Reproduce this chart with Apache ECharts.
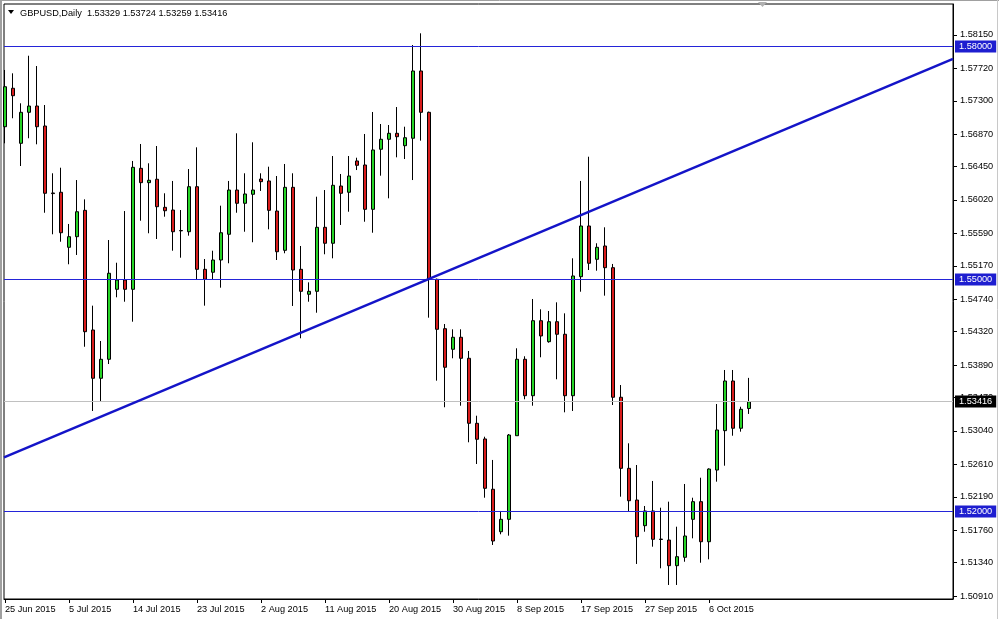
<!DOCTYPE html>
<html>
<head>
<meta charset="utf-8">
<script src="https://cdn.jsdelivr.net/npm/echarts@6/dist/echarts.min.js"></script>
<style>
html,body{margin:0;padding:0;background:#fff;}
#c{width:999px;height:619px;}
</style>
</head>
<body>
<div id="c"></div>
<script>
// ---- data ----
const symbolTitle = 'GBPUSD,Daily';
const dates = ['25 Jun 2015','26 Jun 2015','28 Jun 2015','29 Jun 2015','30 Jun 2015','1 Jul 2015','2 Jul 2015','3 Jul 2015','5 Jul 2015','6 Jul 2015',
'7 Jul 2015','8 Jul 2015','9 Jul 2015','10 Jul 2015','12 Jul 2015','13 Jul 2015','14 Jul 2015','15 Jul 2015','16 Jul 2015','17 Jul 2015',
'19 Jul 2015','20 Jul 2015','21 Jul 2015','22 Jul 2015','23 Jul 2015','24 Jul 2015','26 Jul 2015','27 Jul 2015','28 Jul 2015','29 Jul 2015',
'30 Jul 2015','31 Jul 2015','2 Aug 2015','3 Aug 2015','4 Aug 2015','5 Aug 2015','6 Aug 2015','7 Aug 2015','9 Aug 2015','10 Aug 2015',
'11 Aug 2015','12 Aug 2015','13 Aug 2015','14 Aug 2015','16 Aug 2015','17 Aug 2015','18 Aug 2015','19 Aug 2015','20 Aug 2015','21 Aug 2015',
'23 Aug 2015','24 Aug 2015','25 Aug 2015','26 Aug 2015','27 Aug 2015','28 Aug 2015','30 Aug 2015','31 Aug 2015','1 Sep 2015','2 Sep 2015',
'3 Sep 2015','4 Sep 2015','6 Sep 2015','7 Sep 2015','8 Sep 2015','9 Sep 2015','10 Sep 2015','11 Sep 2015','13 Sep 2015','14 Sep 2015',
'15 Sep 2015','16 Sep 2015','17 Sep 2015','18 Sep 2015','20 Sep 2015','21 Sep 2015','22 Sep 2015','23 Sep 2015','24 Sep 2015','25 Sep 2015',
'27 Sep 2015','28 Sep 2015','29 Sep 2015','30 Sep 2015','1 Oct 2015','2 Oct 2015','4 Oct 2015','5 Oct 2015','6 Oct 2015','7 Oct 2015',
'8 Oct 2015','9 Oct 2015','11 Oct 2015','12 Oct 2015'];

const openP = [1.56965,1.57461,1.56751,1.57151,1.57232,1.56974,1.56110,1.56119,1.55409,1.55546,
1.55886,1.54342,1.53719,1.53964,1.54867,1.54987,1.54867,1.56428,1.56243,1.56287,
1.55925,1.55890,1.55626,1.55610,1.56191,1.55125,1.55087,1.55245,1.55577,1.56148,
1.55977,1.56093,1.56290,1.56265,1.55877,1.55370,1.56183,1.55125,1.54803,1.54841,
1.55667,1.55461,1.56200,1.56119,1.56523,1.56471,1.55899,1.56674,1.56803,1.56880,
1.56720,1.56816,1.57684,1.57151,1.54996,1.54359,1.54093,1.54248,1.53977,1.53138,
1.52936,1.52287,1.51739,1.51899,1.52978,1.53964,1.53494,1.54462,1.54191,1.54449,
1.54287,1.53494,1.55030,1.55684,1.55254,1.55426,1.55146,1.53474,1.52557,1.52148,
1.51817,1.52007,1.51644,1.51632,1.51301,1.51409,1.51899,1.52127,1.51610,1.52535,
1.53043,1.53684,1.53074,1.53329];

const highP = [1.57697,1.57654,1.57267,1.57881,1.57748,1.57245,1.56364,1.56436,1.55710,1.56277,
1.56028,1.54656,1.54200,1.55503,1.55210,1.55877,1.56523,1.56742,1.56493,1.56716,
1.56106,1.56265,1.55890,1.56419,1.56699,1.55258,1.55365,1.55946,1.56265,1.56880,
1.56364,1.56764,1.56364,1.56449,1.56329,1.56484,1.56364,1.55426,1.54957,1.56062,
1.56148,1.56587,1.56355,1.56587,1.56565,1.56871,1.57155,1.57000,1.56987,1.57219,
1.56965,1.58019,1.58170,1.57160,1.55005,1.54419,1.54351,1.54351,1.54071,1.53236,
1.52965,1.52665,1.52007,1.53000,1.54106,1.54003,1.54742,1.54609,1.54587,1.54699,
1.54557,1.55267,1.56265,1.56578,1.55461,1.55667,1.55194,1.53632,1.52880,1.52600,
1.52071,1.52394,1.52049,1.52127,1.51804,1.52355,1.52178,1.52436,1.52557,1.53387,
1.53826,1.53826,1.53352,1.53724];

const lowP = [1.56751,1.57074,1.56458,1.56816,1.56738,1.55855,1.55577,1.55481,1.55190,1.55310,
1.54126,1.53297,1.53417,1.53903,1.54764,1.54707,1.54449,1.55752,1.55590,1.55516,
1.55804,1.55365,1.55275,1.55559,1.54987,1.54656,1.54996,1.54888,1.55203,1.55855,
1.55610,1.55474,1.56136,1.55641,1.55245,1.55332,1.54652,1.54235,1.54707,1.54565,
1.55319,1.55267,1.55697,1.55868,1.56406,1.55739,1.55597,1.56333,1.56041,1.56570,
1.56548,1.56277,1.56785,1.54501,1.53688,1.53345,1.53977,1.53365,1.52893,1.52613,
1.52178,1.51568,1.51706,1.51688,1.52978,1.53448,1.53365,1.53990,1.54178,1.53706,
1.53280,1.53297,1.54836,1.55116,1.55107,1.54785,1.53374,1.52191,1.51997,1.51323,
1.51739,1.51546,1.51267,1.51052,1.51052,1.51352,1.51654,1.51339,1.51383,1.52385,
1.52591,1.52978,1.53030,1.53259];

const closeP = [1.57481,1.57365,1.57151,1.57232,1.56965,1.56106,1.56102,1.55597,1.55546,1.55868,
1.54320,1.53719,1.53964,1.55074,1.54987,1.54867,1.56441,1.56243,1.56274,1.55933,
1.55881,1.55610,1.55621,1.56191,1.55125,1.54996,1.55245,1.55597,1.56148,1.55977,
1.56097,1.56148,1.56256,1.55886,1.55352,1.56183,1.55116,1.54841,1.54841,1.55667,
1.55461,1.56209,1.56106,1.56329,1.56467,1.55899,1.56665,1.56803,1.56880,1.56836,
1.56823,1.57684,1.57151,1.54996,1.54351,1.53861,1.54248,1.53977,1.53138,1.52932,
1.52299,1.51619,1.51899,1.52987,1.53964,1.53494,1.54462,1.54265,1.54449,1.54287,
1.53494,1.55039,1.55684,1.55203,1.55409,1.55146,1.53474,1.52557,1.52139,1.51675,
1.52007,1.51641,1.51639,1.51301,1.51417,1.51684,1.52127,1.51610,1.52548,1.53052,
1.53684,1.53074,1.53319,1.53416];

const xTickLabels = ['25 Jun 2015','5 Jul 2015','14 Jul 2015','23 Jul 2015','2 Aug 2015','11 Aug 2015','20 Aug 2015','30 Aug 2015','8 Sep 2015','17 Sep 2015','27 Sep 2015','6 Oct 2015'];
const yTicks = [1.58150,1.57720,1.57300,1.56870,1.56450,1.56020,1.55590,1.55170,1.54740,1.54320,1.53890,1.53470,1.53040,1.52610,1.52190,1.51760,1.51340,1.50910];
const levelLines = [1.58000, 1.55000, 1.52000];
const trendLine = [[-0.125, 1.52698], [118.5, 1.57841]];

// ---- build ----
const n = dates.length;
const candles = dates.map((d, i) => [i, openP[i], closeP[i], lowP[i], highP[i]]);
const lastClose = closeP[n - 1];
const tickIdx = xTickLabels.map(d => dates.indexOf(d));
const FONT = 'Liberation Sans, Arial, sans-serif';
const FS = 9.2;
const header = symbolTitle + '  ' + [openP[n-1], highP[n-1], lowP[n-1], closeP[n-1]].map(v => v.toFixed(5)).join(' ');
const X_MIN = -0.125, X_MAX = 118.5;

// price lines: first = current price (grey / black box), rest = blue levels
const priceLines = [lastClose].concat(levelLines);
const priceLineData = priceLines.map(v => [0, v]);

function renderPriceLine(params, api) {
  const cs = params.coordSys;
  const v = api.value(1);
  const y = Math.floor(api.coord([0, v])[1]) + 0.5;
  const isCurrent = params.dataIndex === 0;
  return {
    type: 'group',
    children: [
      {type: 'line', shape: {x1: cs.x, y1: y, x2: cs.x + cs.width, y2: y},
       style: {stroke: isCurrent ? '#c0c0c0' : '#2424d8', lineWidth: 1}},
      {type: 'text', x: cs.x + cs.width + 2, y: y,
       style: {text: v.toFixed(5), fill: '#fff', backgroundColor: isCurrent ? '#000' : '#1e1ed0',
               padding: [2, 4, 1, 4], font: FS + 'px ' + FONT, verticalAlign: 'middle', align: 'left'}}
    ]
  };
}

const chart = echarts.init(document.getElementById('c'), null, {renderer: 'canvas'});

chart.setOption({
  animation: false,
  backgroundColor: '#fff',
  grid: {left: 4, top: 4, width: 949, height: 595, show: true, borderColor: '#000', borderWidth: 1,
         backgroundColor: '#fff', containLabel: false, outerBoundsMode: 'none'},
  xAxis: {
    type: 'value', min: X_MIN, max: X_MAX,
    splitLine: {show: false},
    axisLine: {show: true, onZero: false, lineStyle: {color: '#000', width: 1}},
    axisTick: {show: true, inside: false, length: 4, lineStyle: {color: '#000'}, customValues: tickIdx},
    axisLabel: {show: true, customValues: tickIdx, align: 'left', margin: 5.5,
      formatter: v => dates[Math.round(v)] || '',
      color: '#000', fontFamily: FONT, fontSize: FS}
  },
  yAxis: {
    type: 'value', position: 'right', min: 1.586 - 599 / 7750, max: 1.586 - 4 / 7750, scale: true,
    splitLine: {show: false},
    axisLine: {show: true, onZero: false, lineStyle: {color: '#000', width: 1}},
    axisTick: {show: true, inside: false, length: 4, lineStyle: {color: '#000'}, customValues: yTicks},
    axisLabel: {show: true, customValues: yTicks, margin: 7,
      formatter: v => v.toFixed(5),
      color: '#000', fontFamily: FONT, fontSize: FS}
  },
  series: [
    {
      type: 'candlestick',
      data: candles,
      barWidth: 4,
      clip: true,
      z: 3,
      itemStyle: {color: '#26d426', color0: '#d81c1c', borderColor: '#000', borderColor0: '#000', borderWidth: 1}
    },
    {
      type: 'custom',
      data: priceLineData,
      encode: {x: 0, y: 1},
      renderItem: renderPriceLine,
      clip: false,
      silent: true,
      z: 5
    },
    {
      type: 'line',
      data: trendLine,
      showSymbol: false, symbol: 'none',
      clip: true,
      z: 6,
      lineStyle: {color: '#1414c8', width: 2.5},
      silent: true
    }
  ],
  graphic: [
    {type: 'polygon', shape: {points: [[8, 10], [14, 10], [11, 14]]}, style: {fill: '#000'}, z: 100},
    {type: 'text', x: 20, y: 13, style: {text: header, fill: '#000', font: FS + 'px ' + FONT, verticalAlign: 'middle'}, z: 100},
    {type: 'polygon', shape: {points: [[758, 2], [767, 2], [762.5, 7]]}, style: {fill: '#b0b0b0'}, z: 100},
    {type: 'line', shape: {x1: 0, y1: 0.5, x2: 999, y2: 0.5}, style: {stroke: '#a0a0a0', lineWidth: 1}, z: 100},
    {type: 'line', shape: {x1: 1, y1: 0, x2: 1, y2: 619}, style: {stroke: '#a0a0a0', lineWidth: 2}, z: 100},
    {type: 'line', shape: {x1: 997.5, y1: 0, x2: 997.5, y2: 619}, style: {stroke: '#c8c8c8', lineWidth: 1}, z: 100}
  ]
});
</script>
</body>
</html>
